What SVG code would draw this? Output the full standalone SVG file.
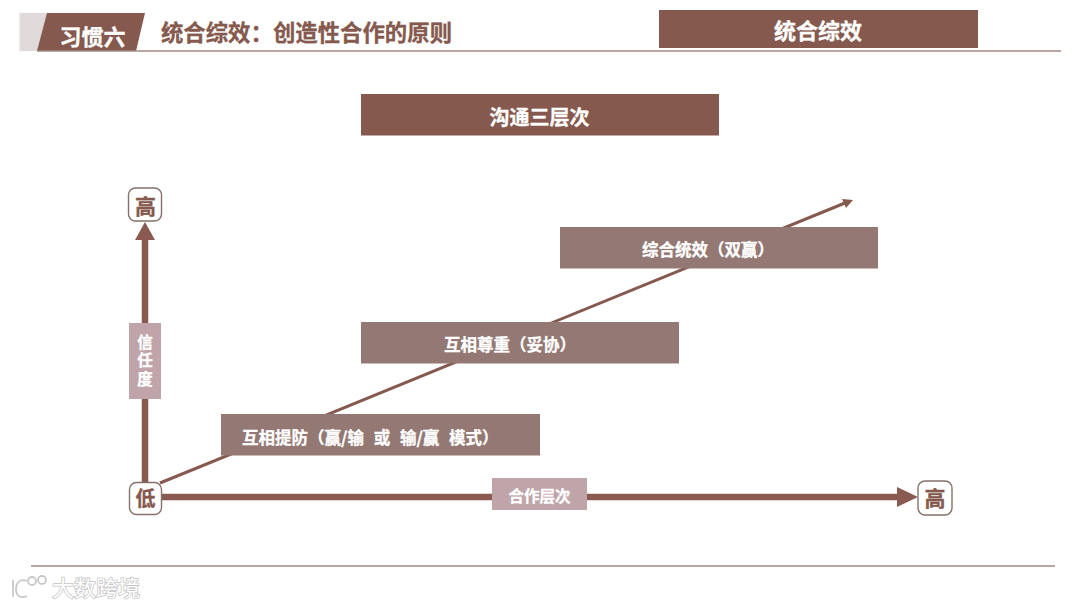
<svg xmlns="http://www.w3.org/2000/svg" width="1080" height="608" viewBox="0 0 1080 608">
<style>
text{font-family:"Noto Sans CJK SC","Liberation Sans",sans-serif;font-weight:700;text-anchor:middle}
.w{fill:#fff;stroke:#fff;stroke-width:.3}
.d{fill:#85594e;stroke:#85594e;stroke-width:.3}
.s{text-anchor:start;font-size:16.500px}
.bar{fill:#85594e}
.box{fill:#937873}
.pale{fill:#bfa5aa}
.corner{fill:#fff;stroke:#85706a;stroke-width:1.4}
.ax{fill:none;stroke:#8a5a50;stroke-width:6.500}
.ah{fill:#8a5a50}
.logo{fill:none;stroke:#c9c9c9;stroke-width:1.800}
</style>
<rect width="1080" height="608" fill="#fff"/>
<g id="header">
<rect x="19.500" y="13" width="30" height="38" fill="#e0dbda"/>
<polygon points="47,13 145,13 136,51 37,51" fill="#85594e"/>
<line x1="37" y1="51" x2="1061" y2="51" stroke="#a18883" stroke-width="1.500"/>
<text x="92.500" y="45" font-size="22" class="w">习惯六</text>
<text x="306.500" y="41" font-size="22.400" class="d">统合综效：创造性合作的原则</text>
</g>
<g id="badge">
<rect x="659" y="10" width="319" height="38" class="bar"/>
<text x="818" y="39" font-size="22" class="w">统合综效</text>
</g>
<g id="title">
<rect x="361" y="94" width="358" height="41.500" class="bar"/>
<text x="539.500" y="124.500" font-size="20" class="w">沟通三层次</text>
</g>
<g id="connectors">
<line x1="145" y1="486" x2="145" y2="238" class="ax"/>
<polygon points="145,222 155,240 135,240" class="ah"/>
<line x1="160" y1="497" x2="900" y2="497" class="ax"/>
<polygon points="918,497 897,487 897,507" class="ah"/>
<line x1="160" y1="483" x2="845" y2="203" stroke="#85594e" stroke-width="3"/>
<polygon points="853,200 842,199 846,208" fill="#85594e"/>
</g>
<g id="node-high-y">
<rect x="128.500" y="188" width="33" height="33" rx="7" class="corner"/>
<text x="145.500" y="214" font-size="21" class="d">高</text>
</g>
<g id="node-low">
<rect x="129.500" y="482.500" width="32" height="32" rx="7" class="corner"/>
<text x="145.500" y="506" font-size="20" class="d">低</text>
</g>
<g id="node-high-x">
<rect x="918" y="481" width="34" height="34" rx="7" class="corner"/>
<text x="935" y="506" font-size="21" class="d">高</text>
</g>
<g id="label-trust">
<rect x="129" y="323" width="32" height="76" class="pale"/>
<text x="145" y="362" font-size="15.500" class="w" style="writing-mode:vertical-rl;letter-spacing:3px">信任度</text>
</g>
<g id="label-cooperation">
<rect x="492" y="478" width="95" height="32" class="pale"/>
<text x="539.500" y="502" font-size="15.500" class="w">合作层次</text>
</g>
<g id="box-guard">
<rect x="221" y="414" width="319" height="41.500" class="box"/>
<text x="242" y="444" class="w s" word-spacing="6">互相提防（赢/输 或 输/赢 模式）</text>
</g>
<g id="box-respect">
<rect x="361" y="322" width="318" height="41.500" class="box"/>
<text x="444" y="351" class="w s">互相尊重（妥协）</text>
</g>
<g id="box-synergy">
<rect x="560" y="227" width="318" height="41.500" class="box"/>
<text x="642" y="256" class="w s">综合统效（双赢）</text>
</g>
<g id="footer">
<line x1="31" y1="566" x2="1055" y2="566" stroke="#a18883" stroke-width="1.500"/>
<text x="96" y="596" font-size="22" fill="#fff" stroke="#c4c4c4" stroke-width="1.500" paint-order="stroke" style="font-weight:400">大数跨境</text>
<path class="logo" d="M13 580V597M27 581C20 578 16 583 16 589C16 596 21 599 27 596"/>
<circle class="logo" cx="32" cy="581" r="4"/>
<circle class="logo" cx="42" cy="580" r="4"/>
</g>
</svg>
